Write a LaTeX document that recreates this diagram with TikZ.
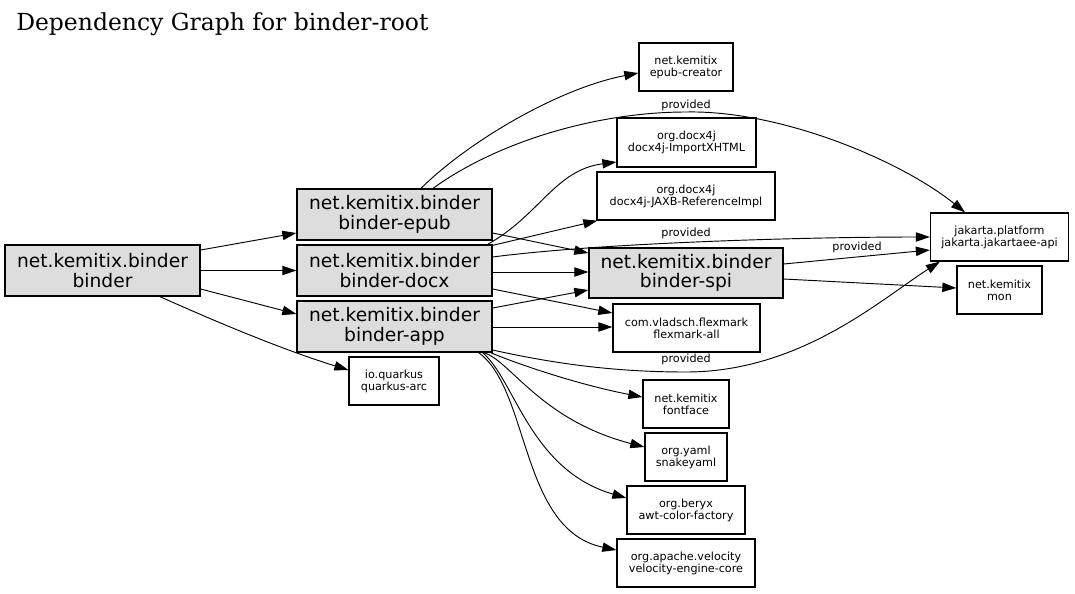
\documentclass[tikz,border=0pt]{standalone}
\usepackage{fontspec}
\setmainfont{DejaVu Sans}
\newfontfamily\titlefont{DejaVu Serif}
\usetikzlibrary{arrows.meta,calc}
\definecolor{nodegray}{RGB}{221,221,221}
\begin{document}
\begin{tikzpicture}[x=0.75pt,y=-0.75pt,
 box/.style={draw=black,line width=1pt,inner sep=0pt,align=center,rectangle},
 bigbox/.style={box,fill=nodegray,font=\fontsize{14}{14.5}\selectfont,minimum width=146.25pt,minimum height=38.25pt},
 smallbox/.style={box,fill=white,font=\fontsize{8.4}{9}\selectfont,minimum height=36pt},
 edge/.style={line width=0.7pt,-{Triangle[length=10.5pt,width=7pt]}},
 lbl/.style={font=\fontsize{8.4}{9}\selectfont,inner sep=0pt}
]
\useasboundingbox (0,0) rectangle (1075,593);
\fill[white] (0,0) rectangle (1075,593);

\node[anchor=base west,inner sep=0pt,font=\titlefont\fontsize{17.6}{20}\selectfont] (title) at (16,30) {Dependency Graph for binder-root};

% big nodes
\node[bigbox] (binder) at (102.5,270.5) {net.kemitix.binder\\binder};
\node[bigbox] (epub) at (394.5,214.5) {net.kemitix.binder\\binder-epub};
\node[bigbox] (docx) at (394.5,270.5) {net.kemitix.binder\\binder-docx};
\node[bigbox] (app) at (394.5,326.5) {net.kemitix.binder\\binder-app};
\node[bigbox,minimum width=145.5pt,minimum height=37.5pt] (spi) at (686,273) {net.kemitix.binder\\binder-spi};

% small nodes
\node[smallbox,minimum width=67.5pt] (quarkus) at (394,381) {io.quarkus\\quarkus-arc};
\node[smallbox,minimum width=70.5pt] (epubcreator) at (686,67) {net.kemitix\\epub-creator};
\node[smallbox,minimum width=104.25pt,minimum height=36.75pt] (importx) at (686.5,142.5) {org.docx4j\\docx4j-ImportXHTML};
\node[smallbox,minimum width=133.5pt] (jaxb) at (686,196) {org.docx4j\\docx4j-JAXB-ReferenceImpl};
\node[smallbox,minimum width=110.25pt] (flexmark) at (686.5,328) {com.vladsch.flexmark\\flexmark-all};
\node[smallbox,minimum width=103.5pt] (jakarta) at (999.5,237) {jakarta.platform\\jakarta.jakartaee-api};
\node[smallbox,minimum width=63.75pt] (mon) at (999.5,290) {net.kemitix\\mon};
\node[smallbox,minimum width=64.5pt] (fontface) at (686,404) {net.kemitix\\fontface};
\node[smallbox,minimum width=61.5pt] (snakeyaml) at (686,457) {org.yaml\\snakeyaml};
\node[smallbox,minimum width=88.5pt] (awt) at (686,510) {org.beryx\\awt-color-factory};
\node[smallbox,minimum width=103.5pt] (velocity) at (686,563) {org.apache.velocity\\velocity-engine-core};

% edges from binder
\draw[edge] ($(binder.east)+(0,-20.5)$) -- ($(epub.west)+(0,18.5)$);
\draw[edge] (binder.east) -- (docx.west);
\draw[edge] ($(binder.east)+(0,18.5)$) -- ($(app.west)+(0,-12.5)$);
\draw[edge] ($(binder.south)+(57.5,0)$) .. controls (230,328) and (290,352) .. ($(quarkus.west)+(0,-11)$);

% edges from epub
\draw[edge] ($(epub.north)+(26.5,0)$) .. controls (470,140) and (560,88) .. ($(epubcreator.west)+(0,6)$);
\draw[edge] ($(epub.north)+(38.5,0)$) .. controls (500,140) and (600,112) .. (686,112)
   .. controls (780,110) and (900,160) .. ($(jakarta.north)+(-34.5,0)$);
\node[lbl] (l1) at (686,105) {provided};
\draw[edge] ($(epub.east)+(0,18.5)$) -- ($(spi.west)+(0,-20)$);

% edges from docx
\draw[edge] ($(docx.north east)+(-5,0)$) .. controls (540,215) and (555,170) .. ($(importx.west)+(0,19.5)$);
\draw[edge] ($(docx.north east)+(0,1)$) -- ($(jaxb.south west)+(1,0)$);
\draw[edge] ($(docx.east)+(0,-13.5)$) .. controls (600,243) and (800,237) .. (jakarta.west);
\node[lbl] (l2) at (686,233) {provided};
\draw[edge] ($(docx.east)+(0,1.5)$) -- ($(spi.west)+(0,-1)$);
\draw[edge] ($(docx.east)+(0,18.5)$) -- ($(flexmark.west)+(0,-15)$);

% edges from app
\draw[edge] ($(app.east)+(0,-18.5)$) -- ($(spi.west)+(0,17)$);
\draw[edge] ($(app.east)+(0,0.5)$) -- ($(flexmark.west)+(0,-1)$);
\draw[edge] ($(app.east)+(0,23.5)$) .. controls (560,365) and (620,372) .. (686,372)
   .. controls (800,372) and (880,300) .. ($(jakarta.south west)+(10,0)$);
\node[lbl] (l3) at (686,359) {provided};
\draw[edge] ($(app.south east)+(-2,0)$) .. controls (520,365) and (580,385) .. ($(fontface.west)+(0,-7)$);
\draw[edge] ($(app.south east)+(-9,0)$) .. controls (510,360) and (540,420) .. ($(snakeyaml.west)+(0,-10)$);
\draw[edge] ($(app.south east)+(-10,0)$) .. controls (515,380) and (530,470) .. ($(awt.west)+(0,-12)$);
\draw[edge] ($(app.south east)+(-14,0)$) .. controls (530,390) and (520,530) .. ($(velocity.west)+(0,-13)$);

% edges from spi
\draw[edge] ($(spi.east)+(0,-9)$) -- ($(jakarta.west)+(0,13)$);
\node[lbl] (l4) at (857,247) {provided};
\draw[edge] ($(spi.east)+(0,6)$) -- ($(mon.west)+(0,-2)$);
\end{tikzpicture}
\end{document}
